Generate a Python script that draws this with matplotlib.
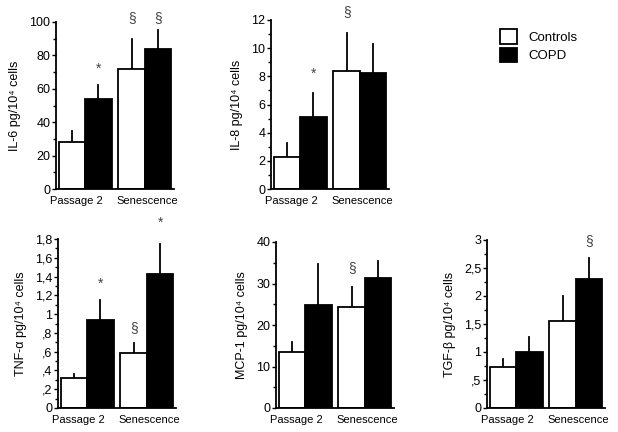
import numpy as np
import matplotlib
matplotlib.use("Agg")
import matplotlib.pyplot as plt
from matplotlib.patches import Patch
from matplotlib.ticker import MultipleLocator

plt.rcParams['font.family'] = ['Liberation Sans', 'DejaVu Sans']

groups = ["Passage 2", "Senescence"]

# values: [ctrl P2, COPD P2, ctrl Sen, COPD Sen], error bar tops
il6 = [28, 54, 72, 84]
il6_top = [35, 62, 90, 95]
il8 = [2.3, 5.1, 8.4, 8.25]
il8_top = [3.3, 6.8, 11.1, 10.3]
tnf = [0.32, 0.94, 0.59, 1.43]
tnf_top = [0.36, 1.15, 0.69, 1.75]
mcp = [13.5, 24.7, 24.3, 31.4]
mcp_top = [15.8, 34.6, 29.2, 35.4]
tgf = [0.73, 1.0, 1.56, 2.3]
tgf_top = [0.88, 1.27, 2.0, 2.67]

# significance marks: (bar index, y, symbol)
il6_marks = [(1, 68, "*"), (2, 98, "§"), (3, 98, "§")]
il8_marks = [(1, 7.7, "*"), (2, 12.1, "§")]
tnf_marks = [(1, 1.25, "*"), (2, 0.78, "§"), (3, 1.9, "*")]
mcp_marks = [(2, 32, "§")]
tgf_marks = [(3, 2.85, "§")]

W, H = 618, 432
fig = plt.figure(figsize=(W / 100, H / 100), dpi=100)


def panel(px_left, px_top, px_bottom, vals, tops, marks, ymax, step, ticklabels, ylabel):
    ax = fig.add_axes([px_left / W, 1 - px_bottom / H, 118 / W, (px_bottom - px_top) / H])
    lefts = np.array([0.1, 1.1, 2.35, 3.35])
    colors = ["white", "black", "white", "black"]
    ax.bar(lefts, vals, width=1.0, align="edge", color=colors,
           edgecolor="black", linewidth=1.3, zorder=2)
    centers = lefts + 0.5
    for c, v, t in zip(centers, vals, tops):
        ax.plot([c, c], [v, t], color="black", lw=1.3, zorder=1)
    for i, y, s in marks:
        ax.text(centers[i], y, s, ha="center", va="bottom", fontsize=10, color="#444444")
    ax.set_xlim(0, 4.45)
    ax.set_ylim(0, ymax)
    ax.set_yticks(np.arange(0, ymax + step / 2, step))
    ax.set_yticklabels(ticklabels)
    ax.yaxis.set_minor_locator(MultipleLocator(step / 2))
    ax.set_xticks([0.78, 3.45])
    ax.set_xticklabels(groups)
    ax.tick_params(axis="x", length=0, pad=5, labelsize=8)
    ax.tick_params(axis="y", which="major", length=3, width=1, pad=1, labelsize=9)
    ax.tick_params(axis="y", which="minor", length=2, width=1)
    for s in ["top", "right"]:
        ax.spines[s].set_visible(False)
    ax.spines["left"].set_linewidth(1.3)
    ax.spines["bottom"].set_linewidth(1.3)
    ax.set_ylabel(ylabel, fontsize=9, labelpad=6)
    return ax


panel(56, 22, 189, il6, il6_top, il6_marks, 100, 20,
      ["0", "20", "40", "60", "80", "100"], "IL-6 pg/10⁴ cells")
panel(271, 20, 189, il8, il8_top, il8_marks, 12, 2,
      ["0", "2", "4", "6", "8", "10", "12"], "IL-8 pg/10⁴ cells")
panel(58, 239, 408, tnf, tnf_top, tnf_marks, 1.8, 0.2,
      ["0", ",2", ",4", ",6", ",8", "1", "1,2", "1,4", "1,6", "1,8"], "TNF-α pg/10⁴ cells")
panel(276, 242, 408, mcp, mcp_top, mcp_marks, 40, 10,
      ["0", "10", "20", "30", "40"], "MCP-1 pg/10⁴ cells")
panel(487, 240, 408, tgf, tgf_top, tgf_marks, 3, 0.5,
      ["0", ",5", "1", "1,5", "2", "2,5", "3"], "TGF-β pg/10⁴ cells")

handles = [Patch(facecolor="white", edgecolor="black", linewidth=1.3, label="Controls"),
           Patch(facecolor="black", edgecolor="black", linewidth=1.3, label="COPD")]
fig.legend(handles=handles, loc="upper left", bbox_to_anchor=(495 / W, 1 - 24 / H),
           frameon=False, fontsize=9.5, handlelength=1.3, handleheight=1.3,
           handletextpad=0.8, labelspacing=0.3, borderaxespad=0)

fig.savefig("out.png", dpi=100)
